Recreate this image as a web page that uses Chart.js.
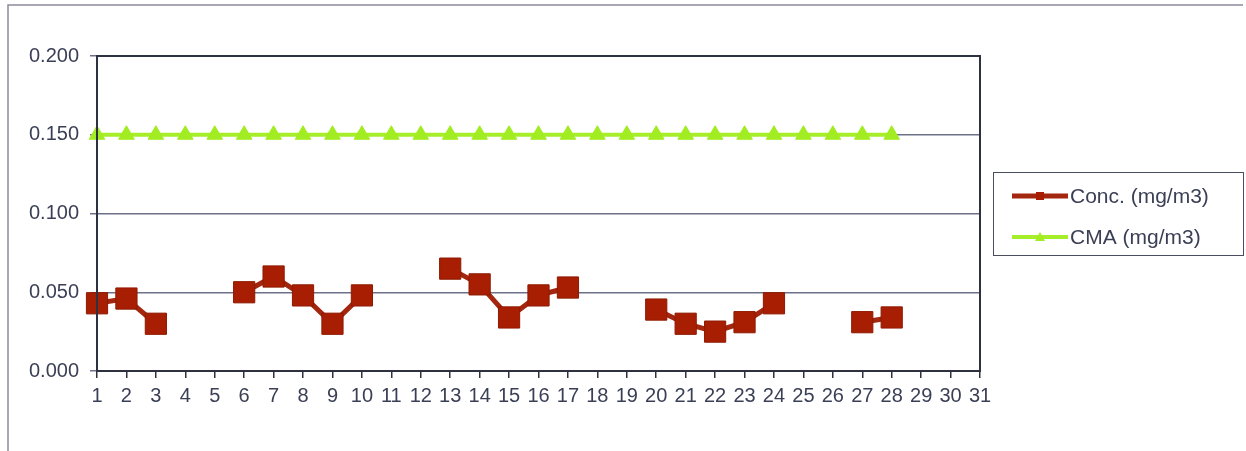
<!DOCTYPE html>
<html>
<head>
<meta charset="utf-8">
<script src="https://cdn.jsdelivr.net/npm/chart.js@4.4.1/dist/chart.umd.min.js"></script>
<style>
    body { margin: 0; background: #ffffff; }
    #wrap { position: relative; width: 1246px; height: 451px; }
</style>
</head>
<body>
<div id="wrap"><canvas id="concChart" width="1246" height="451"></canvas></div>
<script>
// dias del mes
var dias = [];
for (var d = 1; d <= 31; d++) dias.push(String(d));

// Concentracion medida (mg/m3), null = sin muestreo
var conc = [0.043, 0.046, 0.030, null, null, 0.050, 0.060, 0.048, 0.030, 0.048,
            null, null, 0.065, 0.055, 0.034, 0.048, 0.053, null, null, 0.039,
            0.030, 0.025, 0.031, 0.043, null, null, 0.031, 0.034, null, null, null];

// Concentracion maxima admisible
var cma = [0.150, 0.150, 0.150, 0.150, 0.150, 0.150, 0.150, 0.150, 0.150, 0.150,
           0.150, 0.150, 0.150, 0.150, 0.150, 0.150, 0.150, 0.150, 0.150, 0.150,
           0.150, 0.150, 0.150, 0.150, 0.150, 0.150, 0.150, 0.150, null, null, null];

var yTicks = [0, 0.05, 0.10, 0.15, 0.20];

var textColor = '#3a3f55';
var fuente = 'Arial, "Liberation Sans", sans-serif';

// marco del area de trazado y leyenda a la derecha
var marcoPlugin = {
    id: 'marco',
    beforeDraw: function(chart) {
        var ctx = chart.ctx;
        ctx.save();
        ctx.fillStyle = '#ffffff';
        ctx.fillRect(0, 0, chart.width, chart.height);
        ctx.strokeStyle = '#8a8c9c';
        ctx.lineWidth = 1.5;
        ctx.beginPath();
        ctx.moveTo(8, 451);
        ctx.lineTo(8, 5);
        ctx.lineTo(1243, 5);
        ctx.stroke();
        ctx.restore();
    },
    afterDatasetsDraw: function(chart) {
        var ctx = chart.ctx;
        var a = chart.chartArea;
        ctx.save();
        ctx.strokeStyle = '#2e3140';
        ctx.lineWidth = 2;
        ctx.strokeRect(a.left, a.top, a.right - a.left, a.bottom - a.top);
        ctx.restore();
    },
    afterDraw: function(chart) {
        var ctx = chart.ctx;
        ctx.save();
        ctx.strokeStyle = '#4a4d5e';
        ctx.lineWidth = 1;
        ctx.strokeRect(993.5, 172.5, 250, 83);
        var filas = [196, 237];
        chart.data.datasets.forEach(function(ds, i) {
            var y = filas[i];
            ctx.strokeStyle = ds.borderColor;
            ctx.lineWidth = ds.borderWidth;
            ctx.beginPath();
            ctx.moveTo(1012, y);
            ctx.lineTo(1068, y);
            ctx.stroke();
            ctx.fillStyle = ds.pointBackgroundColor;
            if (ds.pointStyle === 'triangle') {
                ctx.beginPath();
                ctx.moveTo(1040, y - 5);
                ctx.lineTo(1045, y + 4);
                ctx.lineTo(1035, y + 4);
                ctx.closePath();
                ctx.fill();
            } else {
                ctx.fillRect(1036, y - 4, 8, 8);
            }
            ctx.fillStyle = textColor;
            ctx.font = '21px ' + fuente;
            ctx.textBaseline = 'middle';
            ctx.fillText(ds.label, 1070, y + 1);
        });
        ctx.restore();
    }
};

var ctx = document.getElementById('concChart').getContext('2d');
var chart = new Chart(ctx, {
    type: 'line',
    data: {
        labels: dias,
        datasets: [
            {
                label: 'Conc. (mg/m3)',
                data: conc,
                borderColor: '#a3260f',
                borderWidth: 5,
                pointStyle: 'rect',
                pointRadius: 15,
                pointBackgroundColor: '#a81e02',
                pointBorderColor: '#8e1a02',
                pointBorderWidth: 1,
                spanGaps: false,
                tension: 0
            },
            {
                label: 'CMA (mg/m3)',
                data: cma,
                borderColor: '#a6ee2a',
                borderWidth: 4,
                pointStyle: 'triangle',
                pointRadius: 9,
                pointBackgroundColor: '#a2ec22',
                pointBorderColor: '#a2ec22',
                pointBorderWidth: 1,
                spanGaps: false,
                tension: 0
            }
        ]
    },
    options: {
        responsive: false,
        animation: false,
        layout: {
            padding: { left: 0, top: 56, right: 266, bottom: 0 }
        },
        plugins: {
            legend: { display: false },
            tooltip: { enabled: false }
        },
        scales: {
            x: {
                type: 'category',
                offset: false,
                grid: {
                    drawOnChartArea: false,
                    drawTicks: true,
                    tickLength: 7,
                    color: '#2e3140',
                    lineWidth: 1.5
                },
                border: { color: '#2e3140', width: 2 },
                ticks: {
                    color: textColor,
                    font: { family: fuente, size: 20 },
                    padding: 6,
                    maxRotation: 0,
                    autoSkip: false
                },
                afterFit: function(s) { s.height = 80; }
            },
            y: {
                min: 0,
                max: 0.2,
                afterBuildTicks: function(s) {
                    s.ticks = yTicks.map(function(v) { return { value: v }; });
                },
                grid: {
                    color: '#6c7088',
                    lineWidth: 1.5,
                    tickLength: 7
                },
                border: { color: '#2e3140', width: 2 },
                ticks: {
                    color: textColor,
                    font: { family: fuente, size: 20 },
                    padding: 11,
                    callback: function(v) { return Number(v).toFixed(3); }
                },
                afterFit: function(s) { s.width = 97; }
            }
        }
    },
    plugins: [marcoPlugin]
});
</script>
</body>
</html>
